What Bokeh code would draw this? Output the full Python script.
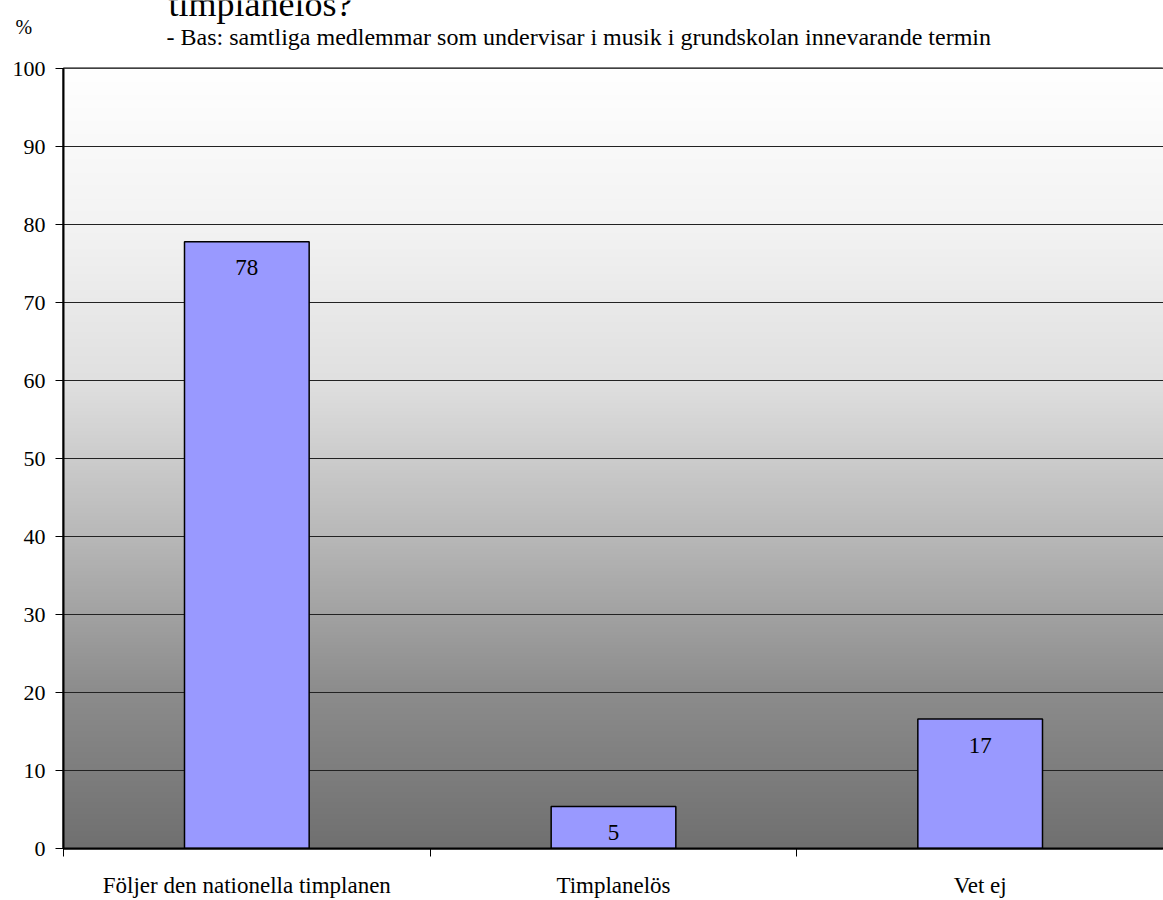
import numpy as np
from bokeh.plotting import figure
from bokeh.layouts import column
from bokeh.models import ColumnDataSource, FixedTicker, LabelSet, Range1d
from bokeh.core.properties import value
from bokeh.embed import file_html
from bokeh.resources import INLINE

# ---- data ----
categories = ["Följer den nationella timplanen", "Timplanelös", "Vet ej"]
values = [77.8, 5.4, 16.6]
value_labels = ["78", "5", "17"]
y_ticks = [0, 10, 20, 30, 40, 50, 60, 70, 80, 90, 100]
title_text = "timplanelös?"
subtitle_text = "- Bas: samtliga medlemmar som undervisar i musik i grundskolan innevarande termin"
unit_text = "%"

FONT = "Liberation Serif"
W = 1163
HEAD_H = 50

# ---- header (texts above the chart) ----
head = figure(width=W, height=HEAD_H, output_backend="svg", toolbar_location=None,
              x_range=Range1d(0, W), y_range=Range1d(HEAD_H, 0),
              x_axis_type=None, y_axis_type=None, min_border=0)
head.frame_align = False
head.outline_line_color = None
head.grid.visible = False
head.background_fill_color = "white"
head.border_fill_color = "white"
head.text(x=[168], y=[3], text=[title_text], text_font=value(FONT),
          text_font_size=value("36px"), text_baseline="middle", text_color="black")
head.text(x=[166], y=[36], text=[subtitle_text], text_font=value(FONT),
          text_font_size=value("24px"), text_baseline="middle", text_color="black")
head.text(x=[15], y=[26], text=[unit_text], text_font=value(FONT),
          text_font_size=value("20px"), text_baseline="middle", text_color="black")

# ---- main chart ----
xpos = list(np.arange(len(categories)) + 0.5)
src = ColumnDataSource(dict(x=xpos, top=values, lab=value_labels))

p = figure(width=W, height=900 - HEAD_H, output_backend="svg", toolbar_location=None,
           x_range=Range1d(0, len(categories)), y_range=Range1d(0, 100),
           min_border_left=63, min_border_right=0, min_border_top=18, min_border_bottom=51)
p.frame_align = False
p.background_fill_color = "white"
p.border_fill_color = "white"
p.outline_line_color = "black"
p.outline_line_width = 2

# gradient background (style only)
n = 512
t = np.linspace(0, 1, n)
g = np.interp(t, [0, 0.2, 0.4, 0.6, 0.8, 1.0], [112, 140, 184, 224, 243, 255]).astype(np.uint32)
img = ((255 << 24) | (g << 16) | (g << 8) | g).astype(np.uint32).reshape(n, 1)
bg = p.image_rgba(image=[img], x=0, y=0, dw=len(categories), dh=100)
bg.level = "image"

p.vbar(x="x", top="top", width=0.34, source=src, fill_color="#9999FF",
       line_color="black", line_width=1.5)

p.add_layout(LabelSet(x="x", y="top", text="lab", source=src, y_offset=-26,
                      text_align="center", text_baseline="middle",
                      text_font=FONT, text_font_size="23px", text_color="black"))

# grids
p.xgrid.visible = False
p.ygrid.ticker = FixedTicker(ticks=y_ticks)
p.ygrid.grid_line_color = "#222222"
p.ygrid.grid_line_width = 1

# y axis
p.yaxis.ticker = FixedTicker(ticks=y_ticks)
p.yaxis.axis_line_color = "black"
p.yaxis.axis_line_width = 2
p.yaxis.major_tick_in = 0
p.yaxis.major_tick_out = 8
p.yaxis.major_tick_line_color = "black"
p.yaxis.minor_tick_line_color = None
p.yaxis.major_label_text_font = FONT
p.yaxis.major_label_text_font_size = "22px"
p.yaxis.major_label_text_color = "black"
p.yaxis.major_label_standoff = 10

# x axis: labels at category centres, tick marks between categories
p.xaxis.ticker = FixedTicker(ticks=xpos, minor_ticks=list(range(len(categories) + 1)))
p.xaxis.major_label_overrides = {float(x): c for x, c in zip(xpos, categories)}
p.xaxis.axis_line_color = "black"
p.xaxis.axis_line_width = 2
p.xaxis.major_tick_line_color = None
p.xaxis.major_tick_in = 0
p.xaxis.major_tick_out = 0
p.xaxis.minor_tick_in = 0
p.xaxis.minor_tick_out = 8
p.xaxis.minor_tick_line_color = "black"
p.xaxis.major_label_text_font = FONT
p.xaxis.major_label_text_font_size = "23px"
p.xaxis.major_label_text_color = "black"
p.xaxis.major_label_standoff = 16

layout = column(head, p, spacing=0)
open("out.html", "w").write(file_html(layout, INLINE))
